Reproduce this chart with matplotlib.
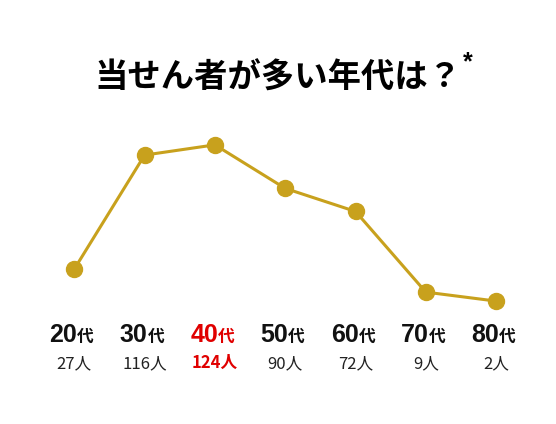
import matplotlib
matplotlib.use("Agg")
import matplotlib.pyplot as plt
from matplotlib.transforms import blended_transform_factory, offset_copy

plt.rcParams['font.family'] = ['Noto Sans CJK JP', 'DejaVu Sans']

ages = ["20", "30", "40", "50", "60", "70", "80"]
counts = [27, 116, 124, 90, 72, 9, 2]
title = "当せん者が多い年代は？"
highlight = "40"

W, H = 556, 424
fig = plt.figure(figsize=(W / 100, H / 100), dpi=100)
ax = fig.add_axes([0, 0, 1, 1])
ax.set_xlim(-1.057, 6.852)
ax.set_ylim(-93.97, 237.1)
ax.axis('off')

gold = '#C8A11D'
xs = list(range(len(ages)))
ax.plot(xs, counts, color=gold, lw=2.2, marker='o', markersize=11.5,
        markerfacecolor=gold, markeredgecolor=gold, solid_capstyle='round')

tr = blended_transform_factory(ax.transData, fig.transFigure)
def fy(px):
    return 1 - px / H

numfam = ['Liberation Sans', 'Noto Sans CJK JP']
for i, (a, c) in enumerate(zip(ages, counts)):
    col = '#E00000' if a == highlight else '#111111'
    t1 = offset_copy(tr, fig=fig, x=3 * 0.72, y=0, units='points')
    ax.text(i, fy(342), a, transform=t1, ha='right', va='baseline',
            fontsize=18, fontweight='bold', color=col, family=numfam)
    ax.text(i, fy(342), "代", transform=t1, ha='left', va='baseline',
            fontsize=12, fontweight='bold', color=col)
    ax.text(i, fy(368), f"{c}人", transform=tr, ha='center', va='baseline',
            fontsize=12, fontweight='bold' if a == highlight else 'normal',
            color='#E00000' if a == highlight else '#222222')

fig.text(278 / W, fy(88), title, ha='center', va='baseline',
         fontsize=24, fontweight='bold', color='#000000')
fig.text(463 / W, fy(69), "*", ha='left', va='baseline',
         fontsize=18, fontweight='bold', color='#000000', family=numfam)

fig.savefig("out.png", dpi=100, facecolor='white')
